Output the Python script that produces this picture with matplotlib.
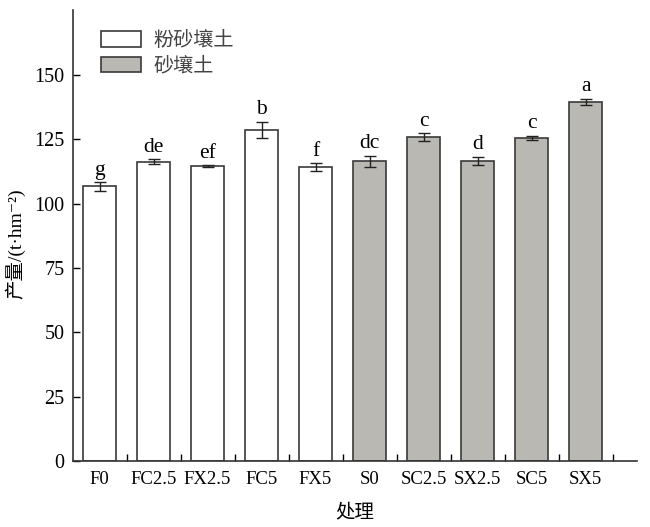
import numpy as np
import matplotlib
matplotlib.use('Agg')
import matplotlib.pyplot as plt

plt.rcParams['font.family'] = ['Liberation Serif', 'Noto Sans CJK SC', 'DejaVu Sans']

treatments = ['F0', 'FC2.5', 'FX2.5', 'FC5', 'FX5', 'S0', 'SC2.5', 'SX2.5', 'SC5', 'SX5']
yield_vals = [106.6, 116.2, 114.5, 128.6, 114.1, 116.3, 125.8, 116.6, 125.4, 139.5]
yield_err = [1.6, 0.9, 0.3, 3.0, 1.5, 2.3, 1.5, 1.5, 0.9, 1.2]
letters = ['g', 'de', 'ef', 'b', 'f', 'dc', 'c', 'd', 'c', 'a']
soil = ['粉砂壤土'] * 5 + ['砂壤土'] * 5

colors = {'粉砂壤土': 'white', '砂壤土': '#b9b8b3'}

fig = plt.figure(figsize=(6.5, 5.27), dpi=100)
ax = fig.add_axes([0.1117, 0.1247, 0.868, 0.856])

x = np.arange(len(treatments))
for s in ['粉砂壤土', '砂壤土']:
    idx = [i for i, v in enumerate(soil) if v == s]
    ax.bar(x[idx], [yield_vals[i] for i in idx], width=0.6,
           color=colors[s], edgecolor='#3a3a3a', linewidth=1.2, label=s,
           yerr=[yield_err[i] for i in idx], capsize=4,
           error_kw=dict(ecolor='#222222', elinewidth=1.0, capthick=1.0))

# significance letters above the error bars
for i in range(len(treatments)):
    ax.text(x[i], yield_vals[i] + yield_err[i] + 1.0, letters[i],
            ha='center', va='bottom', fontsize=15.5, family='Liberation Serif')

ax.set_xlim(-0.5, 9.95)
ax.set_ylim(0, 175)
ax.set_yticks([0, 25, 50, 75, 100, 125, 150])
ax.set_xticks(x + 0.5)
ax.set_xticklabels([])
ax.set_xticks(x, minor=True)
ax.set_xticklabels(treatments, minor=True)
ax.tick_params(axis='x', which='minor', length=0, pad=7, labelsize=13.5)
ax.tick_params(axis='x', which='major', direction='in', length=5, width=1)
ax.tick_params(axis='y', direction='in', length=5, width=1, labelsize=14.5, pad=6)

for sp in ['top', 'right']:
    ax.spines[sp].set_visible(False)
for sp in ['left', 'bottom']:
    ax.spines[sp].set_color('#333333')
    ax.spines[sp].set_linewidth(1.2)

ax.set_xlabel('处理', fontsize=14, labelpad=11)
ax.set_ylabel('产量/(t·hm⁻²)', fontsize=14)
ax.yaxis.set_label_coords(-0.083, 0.482)

leg = ax.legend(loc='upper left', bbox_to_anchor=(0.127, 0.975),
                bbox_transform=fig.transFigure, frameon=False,
                fontsize=14.5, handlelength=2.0, handleheight=0.8,
                labelspacing=0.3, handletextpad=0.6)
for t in leg.get_texts():
    t.set_color('#444444')

fig.savefig('out.png', dpi=100)
